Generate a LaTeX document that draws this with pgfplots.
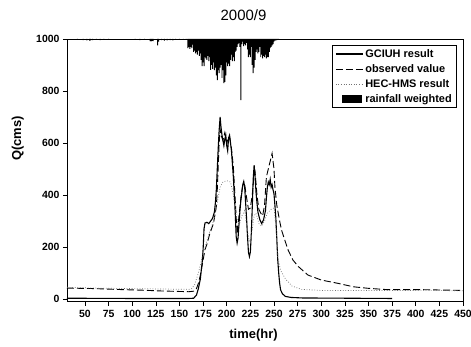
\documentclass[border=0pt]{standalone}
\usepackage{fontspec}
\setmainfont{Liberation Sans}
\usepackage{pgfplots}
\pgfplotsset{compat=1.18}
\begin{document}
\begin{tikzpicture}
% rainfall (hanging bars), hidden axis with reversed y
\begin{axis}[scale only axis, width=396bp, height=262.6bp,
  xmin=31, xmax=450, ymin=0, ymax=1010, y dir=reverse, hide axis]
\addplot[ybar, bar width=1.05, fill=black, draw=none] coordinates {
(42,3)(48,4)(52,5)(55,6)(56,5)(58,4)(62,3)(66,4)(70,3)(75,2)
(103,3)(108,4)(113,3)(119,8)(120,9)(121,7)(122,8)(127,25)(128,10)(131,4)(134,6)(137,5)(140,4)(143,5)(146,3)(150,3)(154,2)(157,3)
(159,35)(160,30)(161,38)(162,30)(163,35)(164,22)(165,50)(166,45)(167,55)(168,50)(169,60)(170,45)(171,65)(172,55)(173,80)(174,104)
(175,90)(176,104)(177,70)(178,75)(179,80)(180,65)(181,85)(182,70)(183,119)(184,100)(185,115)(186,90)(187,120)(188,110)(189,140)
(190,158)(191,120)(192,131)(193,110)(194,100)(195,150)(196,120)(197,170)(198,165)(199,140)(200,90)(201,104)(202,95)(203,104)
(204,80)(205,60)(206,85)(207,70)(208,85)(209,50)(210,45)(211,30)(212,20)(213,15)(214,30)(215,235)(216,20)(217,10)(218,27)
(219,20)(220,25)(221,15)(222,40)(223,70)(224,60)(225,70)(226,30)(227,100)(228,131)(229,110)(230,80)(231,50)(232,40)(233,55)
(234,50)(235,30)(236,70)(237,60)(238,75)(239,65)(240,70)(241,60)(242,75)(243,70)(244,70)(245,50)(246,35)(247,30)(248,25)
(249,20)(250,10)(251,6)(252,5)(253,4)(254,3)(255,2)
};
\end{axis}
\begin{axis}[name=ax, scale only axis, width=396bp, height=262.6bp,
  xmin=31, xmax=450, ymin=-10, ymax=1000,
  xtick={50,75,...,450}, ytick={0,200,...,1000},
  tick align=outside, xtick pos=bottom, ytick pos=left,
  major tick length=4bp,
  axis line style={line width=0.8pt},
  tick style={black, line width=0.6pt},
  /pgf/number format/assume math mode=true,
  /pgf/number format/1000 sep={},
  ticklabel style={font=\bfseries\fontsize{10.5}{11}\selectfont},
  xticklabel style={yshift=-1bp},
  xlabel={time(hr)}, ylabel={Q(cms)},
  xlabel style={font=\bfseries\fontsize{13}{14}\selectfont, at={(axis description cs:0.471,-0.127)}, anchor=center},
  ylabel style={font=\bfseries\fontsize{13}{14}\selectfont, at={(axis description cs:-0.124,0.621)}, anchor=center, rotate=0},
  legend style={at={(0.985,0.977)}, anchor=north east, draw=black, line width=0.6pt,
    font=\bfseries\fontsize{11}{12}\selectfont, inner xsep=3pt, inner ysep=2pt, row sep=1.5pt, cells={anchor=west}},
  legend image code/.code={\draw[#1] (0bp,0bp) -- (27bp,0bp);},
]
\addplot[black, line width=1.1pt] coordinates {
(31,3)(100,2)(160,2)(165,3)(168,15)(170,40)(172,75)(174,140)(175,190)(176,270)(177,292)(179,295)(181,290)(183,300)(185,310)
(187,335)(188,370)(189,420)(190,500)(191,580)(192,650)(193,700)(194,660)(195,630)(196,610)(197,590)(198,615)(199,630)(200,590)
(201,570)(202,620)(203,630)(204,600)(205,570)(206,520)(207,470)(208,400)(209,330)(210,240)(211,215)(212,235)(213,290)(214,340)
(215,380)(216,410)(217,440)(218,452)(219,430)(220,370)(221,310)(222,240)(223,180)(224,163)(225,180)(226,250)(227,350)(228,460)
(229,515)(230,470)(231,410)(232,370)(233,335)(235,305)(237,290)(239,305)(241,340)(242,390)(243,430)(244,450)(245,440)(246,460)
(247,430)(248,440)(249,420)(250,405)(251,360)(252,310)(253,230)(254,150)(255,100)(256,60)(257,35)(259,20)(262,10)(268,6)(280,4)(375,2)
};
\addlegendentry{GCIUH result}
\addplot[black, line width=0.9pt, dash pattern=on 7bp off 3bp] coordinates {
(31,42)(60,40)(90,36)(110,34)(130,31)(150,29)(160,28)(165,30)(168,40)(170,60)(172,90)(175,150)(177,190)(179,210)(182,250)
(186,291)(189,355)(190,420)(191,510)(192,600)(193,654)(194,630)(196,610)(198,640)(200,600)(202,620)(203,624)(205,580)(207,509)
(209,380)(211,250)(213,320)(215,390)(217,440)(219,440)(221,390)(223,345)(225,350)(227,400)(229,480)(230,490)(232,400)(234,345)
(236,330)(238,320)(240,360)(242,470)(244,500)(246,530)(248,560)(250,500)(251,430)(253,360)(256,300)(258,265)(262,220)(265,188)
(270,150)(276,124)(286,92)(300,73)(318,60)(334,47)(350,41)(370,36)(405,36)(450,33)
};
\addlegendentry{observed value}
\addplot[black!55, line width=0.7pt, dash pattern=on 0.8pt off 1.8pt] coordinates {
(31,45)(60,42)(100,40)(140,38)(160,37)(163,40)(166,55)(170,100)(174,160)(178,210)(182,260)(186,300)(190,370)(193,430)(196,450)
(200,455)(204,450)(207,400)(210,320)(213,280)(216,320)(219,340)(222,260)(224,220)(226,240)(229,320)(231,330)(234,290)(237,280)
(240,300)(243,330)(247,345)(250,350)(252,280)(254,160)(257,110)(262,78)(269,50)(279,37)(300,33)(450,32)
};
\addlegendentry{HEC-HMS result}
\addlegendimage{legend image code/.code={\fill[black] (7bp,-3.8bp) rectangle (26bp,3.8bp);}}
\addlegendentry{rainfall weighted}
\end{axis}
\node[font=\fontsize{15}{16}\selectfont] at ([shift={(176.5bp,24bp)}]ax.north west) {2000/9};
\pgfresetboundingbox
\path[use as bounding box] ([shift={(-67bp,-45.4bp)}]ax.south west) rectangle ([shift={(8bp,39bp)}]ax.north east);
\end{tikzpicture}
\end{document}
